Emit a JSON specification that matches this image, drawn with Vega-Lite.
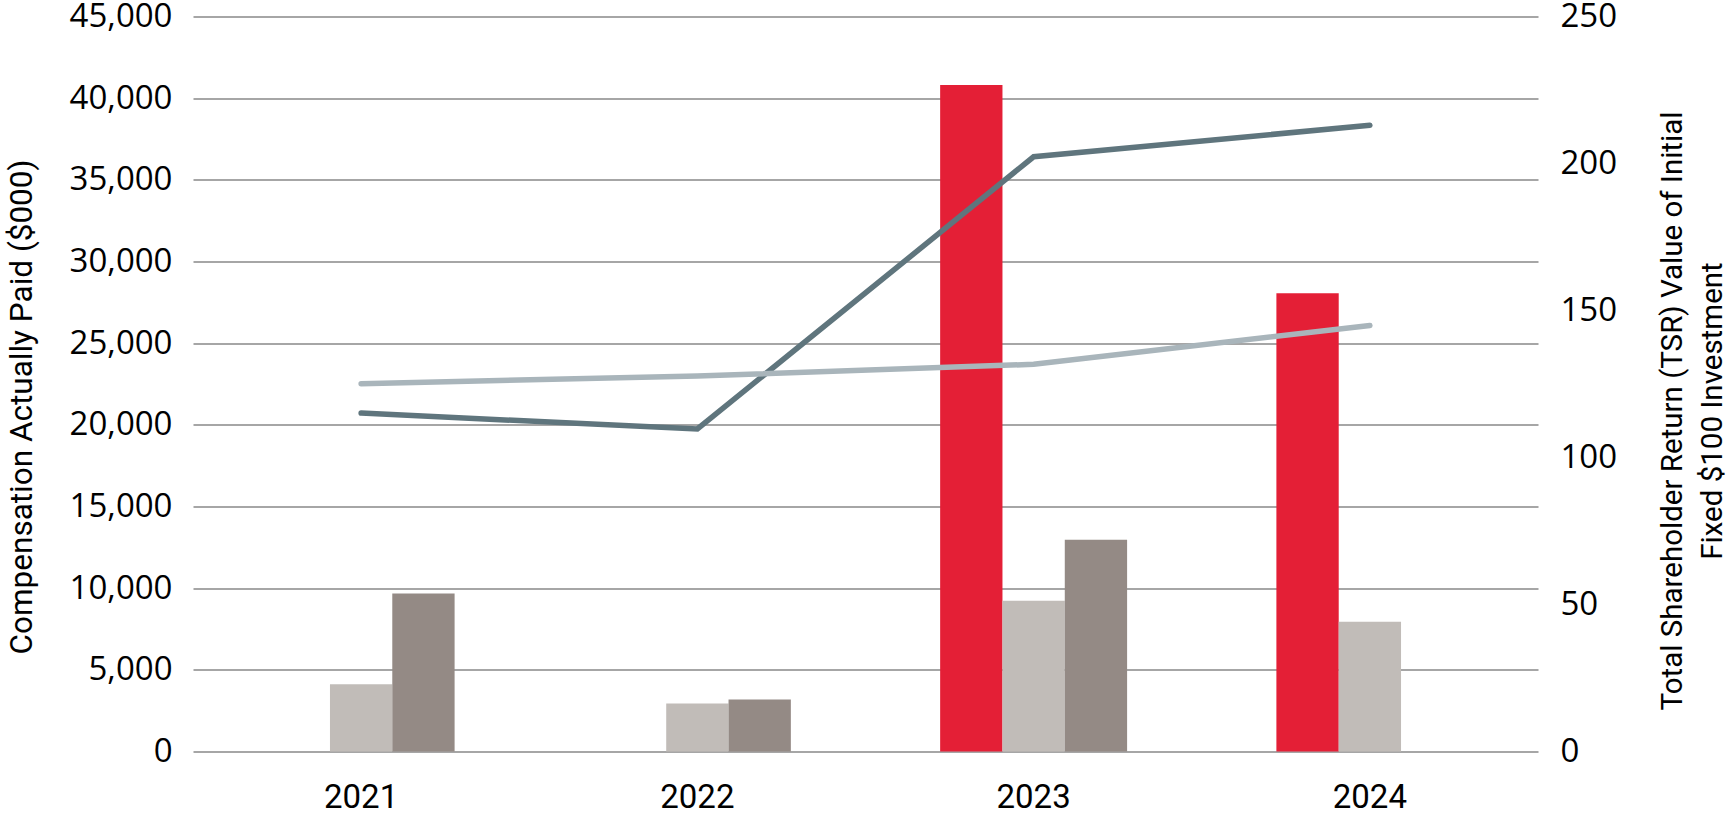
{
  "$schema": "https://vega.github.io/schema/vega-lite/v6.json",
  "autosize": {"type": "none"},
  "width": 1345,
  "height": 735,
  "padding": {"left": 193, "top": 16.5, "right": 197, "bottom": 66.5},
  "background": "white",
  "config": {"view": {"stroke": null}},
  "datasets": {
    "bars": [
      {"year": "2021", "series": "Average Non-PEO NEO CAP", "value": 4120},
      {"year": "2021", "series": "Former PEO CAP", "value": 9680},
      {"year": "2022", "series": "Average Non-PEO NEO CAP", "value": 2940},
      {"year": "2022", "series": "Former PEO CAP", "value": 3185},
      {"year": "2023", "series": "Current PEO CAP", "value": 40810},
      {"year": "2023", "series": "Average Non-PEO NEO CAP", "value": 9224},
      {"year": "2023", "series": "Former PEO CAP", "value": 12960},
      {"year": "2024", "series": "Current PEO CAP", "value": 28050},
      {"year": "2024", "series": "Average Non-PEO NEO CAP", "value": 7938}
    ],
    "tsr": [
      {"year": "2021", "index": "Company TSR", "tsr": 115.1},
      {"year": "2022", "index": "Company TSR", "tsr": 109.7},
      {"year": "2023", "index": "Company TSR", "tsr": 202.3},
      {"year": "2024", "index": "Company TSR", "tsr": 213.0},
      {"year": "2021", "index": "Peer Group TSR", "tsr": 125.1},
      {"year": "2022", "index": "Peer Group TSR", "tsr": 127.7},
      {"year": "2023", "index": "Peer Group TSR", "tsr": 131.7},
      {"year": "2024", "index": "Peer Group TSR", "tsr": 144.9}
    ]
  },
  "layer": [
    {
      "data": {"name": "bars"},
      "mark": {"type": "bar"},
      "encoding": {
        "x": {
          "field": "year", "type": "nominal",
          "scale": {"paddingInner": 0.444, "paddingOuter": 0.222},
          "axis": {
            "title": null, "domain": false, "ticks": false, "grid": false,
            "labelAngle": 0, "labelFont": "Roboto",
            "labelFontSize": 33, "labelColor": "#000000", "labelPadding": 30
          }
        },
        "xOffset": {
          "field": "series", "type": "nominal",
          "scale": {"domain": ["Current PEO CAP", "Average Non-PEO NEO CAP", "Former PEO CAP"], "paddingInner": 0, "paddingOuter": 0}
        },
        "y": {
          "field": "value", "type": "quantitative",
          "scale": {"domain": [0, 45000], "nice": false},
          "axis": {
            "values": [0, 5000, 10000, 15000, 20000, 25000, 30000, 35000, 40000, 45000],
            "format": ",.0f",
            "grid": true, "gridColor": "#a6a6a6", "gridWidth": 2,
            "domain": false, "ticks": false,
            "labelFont": "Open Sans", "labelFontSize": 33, "labelColor": "#000000", "labelPadding": 21,
            "title": "Compensation Actually Paid ($000)",
            "titleFont": "Roboto",
            "titleFontSize": 31.5, "titleFontWeight": "normal", "titleColor": "#000000",
            "titleAngle": -90, "titleX": -171, "titleY": 390,
            "titleAlign": "center", "titleBaseline": "middle"
          }
        },
        "color": {
          "field": "series", "type": "nominal",
          "scale": {"domain": ["Current PEO CAP", "Average Non-PEO NEO CAP", "Former PEO CAP"], "range": ["#e41f36", "#c1bcb8", "#948a85"]},
          "legend": null
        }
      }
    },
    {
      "data": {"name": "tsr"},
      "mark": {"type": "line", "strokeWidth": 5.5, "strokeCap": "round", "strokeJoin": "miter"},
      "encoding": {
        "x": {
          "field": "year", "type": "nominal",
          "axis": {
            "title": null, "domain": false, "ticks": false, "grid": false,
            "labelAngle": 0, "labelFont": "Roboto",
            "labelFontSize": 33, "labelColor": "#000000", "labelPadding": 30
          }
        },
        "y": {
          "field": "tsr", "type": "quantitative",
          "scale": {"domain": [0, 250], "nice": false},
          "axis": {
            "orient": "right",
            "values": [0, 50, 100, 150, 200, 250],
            "grid": false, "domain": false, "ticks": false,
            "labelFont": "Open Sans", "labelFontSize": 33, "labelColor": "#000000", "labelPadding": 22,
            "title": ["Total Shareholder Return (TSR) Value of Initial", "Fixed $100 Investment"],
            "titleFont": "Roboto",
            "titleFontSize": 29.5, "titleFontWeight": "normal", "titleColor": "#000000",
            "titleAngle": -90, "titleX": 120, "titleY": 394,
            "titleAlign": "center", "titleBaseline": "top", "titleLineHeight": 40
          }
        },
        "color": {
          "field": "index", "type": "nominal",
          "scale": {"domain": ["Company TSR", "Peer Group TSR"], "range": ["#5f757d", "#a9b5bb"]},
          "legend": null
        }
      }
    }
  ],
  "resolve": {"scale": {"y": "independent", "color": "independent"}}
}
